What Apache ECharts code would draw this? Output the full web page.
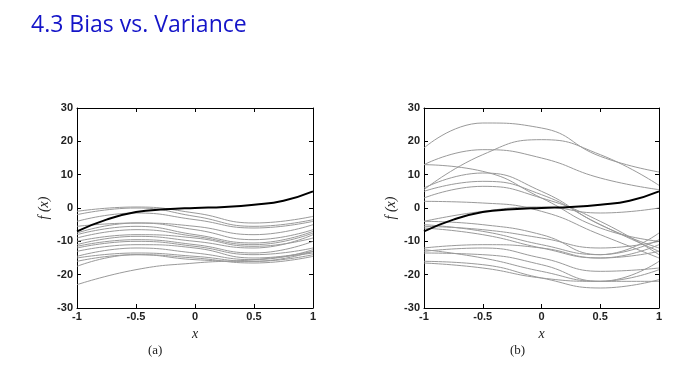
<!DOCTYPE html>
<html>
<head>
<meta charset="utf-8">
<script src="https://cdn.jsdelivr.net/npm/echarts@6/dist/echarts.min.js"></script>
<style>
  html, body { margin: 0; padding: 0; background: #fff; }
  #chart { width: 677px; height: 376px; }
</style>
</head>
<body>
<div id="chart"></div>
<script>
// sample points of the fitted curves
var xs = [-1, -0.5, 0, 0.5, 1];
var xsTruth = [-1, -0.75, -0.5, -0.25, 0, 0.25, 0.5, 0.75, 1];
var truth = [-7, -3.5, -1.2, -0.4, 0, 0.3, 1, 2.2, 5];

// (a) low-variance fits
var fitsA = [
  [-1, 0.3, -1.5, -4.5, -2.5],
  [-2, 0, -2.5, -5.5, -3.5],
  [-4, -1.5, -3.5, -6, -4],
  [-5.5, -4.5, -5.5, -8, -5],
  [-7.5, -4.5, -6.5, -9.5, -6.5],
  [-8, -5.5, -8, -10.5, -7],
  [-9, -6.5, -8.5, -11, -7.5],
  [-10, -8, -9, -11.5, -9],
  [-11, -8.5, -10, -12, -8],
  [-11.5, -9.5, -11, -13.5, -10],
  [-12, -10, -11.5, -14, -12],
  [-13, -11, -12, -15, -13],
  [-14.5, -12, -13.5, -15.5, -12.5],
  [-15, -13.5, -14.5, -16, -14],
  [-16, -14, -15, -16.5, -14.5],
  [-17.5, -14, -15.5, -16, -13],
  [-23, -18.5, -16.5, -15.5, -13.5]
];

// (b) high-variance fits
var fitsB = [
  [18, 25.5, 24, 15.5, 10.8],
  [5.5, 16, 20.5, 16, 6.8],
  [13, 17.5, 15, 9, 5.5],
  [13, 11, 3, -6, -10],
  [6, 10.5, 5, -5, -12],
  [5, 8, 4, -5, -13],
  [3, 6.5, 3, -4, -14],
  [2, 1.5, -1, -8, -15],
  [-4, -1, 0.3, -1.5, 0],
  [-4, -5, -8, -14, -7.5],
  [-5, -7, -11, -14, -9.5],
  [-5.5, -6.5, -9, -12, -10],
  [-6, -8, -12, -15, -11],
  [-12, -11, -12, -15, -13],
  [-13, -12, -15, -19, -18],
  [-13.5, -14, -17, -22, -16],
  [-16, -17, -21, -24, -21.5],
  [-16.5, -18, -21, -22, -22],
  [-12.5, -15, -19, -22, -18.5]
];

var labelFont = { color: '#222', fontSize: 11, fontFamily: 'Liberation Sans, Arial', fontWeight: 'bold' };
var mathFont = { color: '#222', fontSize: 14, fontFamily: 'Liberation Serif, DejaVu Serif', fontStyle: 'italic' };

function pairs(x, y) {
  return x.map(function (v, i) { return [v, y[i]]; });
}

var boxLine = { onZero: false, lineStyle: { color: '#000', width: 1 } };
var inTick = { inside: true, length: 4, lineStyle: { color: '#000' } };

function mkAxes(gi) {
  var xa = [
    {
      type: 'value', gridIndex: gi, min: -1, max: 1, interval: 0.5,
      name: 'x', nameLocation: 'middle', nameGap: 12, nameTextStyle: mathFont,
      axisLine: boxLine, axisTick: inTick,
      axisLabel: Object.assign({ margin: 3 }, labelFont),
      splitLine: { show: false }
    },
    {
      type: 'value', gridIndex: gi, min: -1, max: 1, interval: 0.5, position: 'top',
      axisLine: boxLine, axisTick: inTick,
      axisLabel: { show: false }, splitLine: { show: false }
    }
  ];
  var ya = [
    {
      type: 'value', gridIndex: gi, min: -30, max: 30, interval: 10,
      name: 'f (x)', nameLocation: 'middle', nameGap: 26, nameRotate: 90, nameTextStyle: mathFont,
      axisLine: boxLine, axisTick: inTick,
      axisLabel: Object.assign({ margin: 4 }, labelFont),
      splitLine: { show: false }
    },
    {
      type: 'value', gridIndex: gi, min: -30, max: 30, interval: 10, position: 'right',
      axisLine: boxLine, axisTick: inTick,
      axisLabel: { show: false }, splitLine: { show: false }
    }
  ];
  return { x: xa, y: ya };
}

var axA = mkAxes(0), axB = mkAxes(1);

var series = [];
function addFits(fits, xi, yi) {
  fits.forEach(function (f) {
    series.push({
      type: 'line', xAxisIndex: xi, yAxisIndex: yi, data: pairs(xs, f),
      smooth: 0.5, symbol: 'none', silent: true,
      lineStyle: { color: '#9a9a9a', width: 1 }
    });
  });
  series.push({
    type: 'line', xAxisIndex: xi, yAxisIndex: yi, data: pairs(xsTruth, truth),
    smooth: 0.5, symbol: 'none', silent: true, z: 5,
    lineStyle: { color: '#000', width: 2 }
  });
}
addFits(fitsA, 0, 0);
addFits(fitsB, 2, 2);

var chart = echarts.init(document.getElementById('chart'));
chart.setOption({
  animation: false,
  backgroundColor: '#fff',
  title: {
    text: '4.3 Bias vs. Variance', left: 26, top: 9,
    textStyle: { color: '#1414c8', fontSize: 23, fontWeight: 'normal', fontFamily: 'Open Sans' }
  },
  grid: [
    { left: 77, top: 108, width: 236, height: 200 },
    { left: 424, top: 108, width: 235, height: 200 }
  ],
  xAxis: axA.x.concat(axB.x.map(function (a) { a.gridIndex = 1; return a; })),
  yAxis: axA.y.concat(axB.y.map(function (a) { a.gridIndex = 1; return a; })),
  series: series,
  graphic: [
    { type: 'text', left: 148, top: 344, style: { text: '(a)', fontSize: 13, fontFamily: 'Liberation Serif', fill: '#222' } },
    { type: 'text', left: 510, top: 344, style: { text: '(b)', fontSize: 13, fontFamily: 'Liberation Serif', fill: '#222' } }
  ]
});
</script>
</body>
</html>
